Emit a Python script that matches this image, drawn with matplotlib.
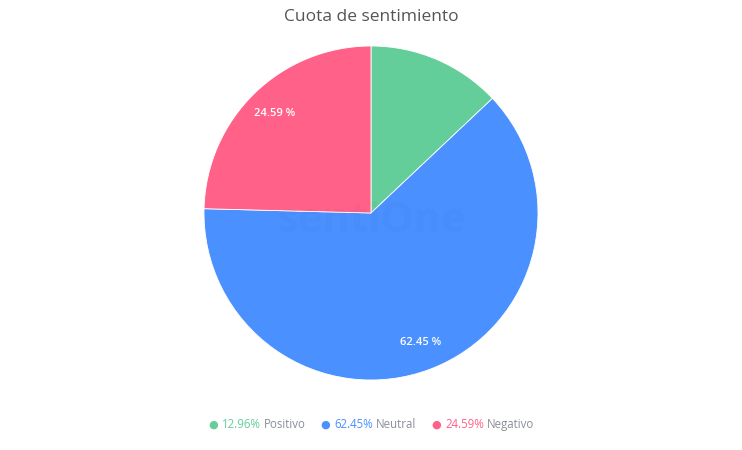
import matplotlib.pyplot as plt

# data
labels = ["Positivo", "Neutral", "Negativo"]
shares = [12.96, 62.45, 24.59]
colors = ["#64CE9A", "#4A90FF", "#FF6188"]
legend_x = [213, 325, 436]

W, H = 742, 450
plt.rcParams["font.family"] = ["Open Sans", "DejaVu Sans"]

fig = plt.figure(figsize=(W / 100, H / 100), dpi=100)
fig.patch.set_facecolor("white")

cx, cy, r = 371, 213, 167
ax = fig.add_axes([(cx - r) / W, (H - cy - r) / H, 2 * r / W, 2 * r / H])

def pct_label(p):
    return f"{p:.2f} %" if p > 15 else ""

wedges, texts, autotexts = ax.pie(
    shares, colors=colors, startangle=90, counterclock=False,
    autopct=pct_label, pctdistance=0.83,
    wedgeprops=dict(edgecolor="white", linewidth=0.6),
    textprops=dict(color="white", fontsize=8, fontweight="semibold"),
)
ax.set_aspect("equal")
ax.set_xlim(-1, 1)
ax.set_ylim(-1, 1)

# faint watermark
ax.text(0.0, -0.05, "sentiOne", ha="center", va="center", fontsize=30,
        fontweight="bold", color="#1a3a6a", alpha=0.03, zorder=5)

fig.text(0.5, 1 - 17 / H, "Cuota de sentimiento", ha="center", va="center",
         fontsize=12.5, color="#555555")

# legend
ly = 1 - 428 / H
for lbl, p, c, x in zip(labels, shares, colors, legend_x):
    fig.text(x / W, ly, "\u25CF", color=c, ha="center", va="baseline", fontsize=8,
             family="DejaVu Sans")
    t = fig.text((x + 9) / W, ly, f"{p:.2f}%", color=c, ha="left", va="baseline",
                 fontsize=8.3)
    fig.canvas.draw()
    bb = t.get_window_extent()
    fig.text((bb.x1 + 3) / W, ly, lbl, color="#8a8f99", ha="left", va="baseline",
             fontsize=8.3)

fig.savefig("out.png", dpi=100, facecolor="white")
